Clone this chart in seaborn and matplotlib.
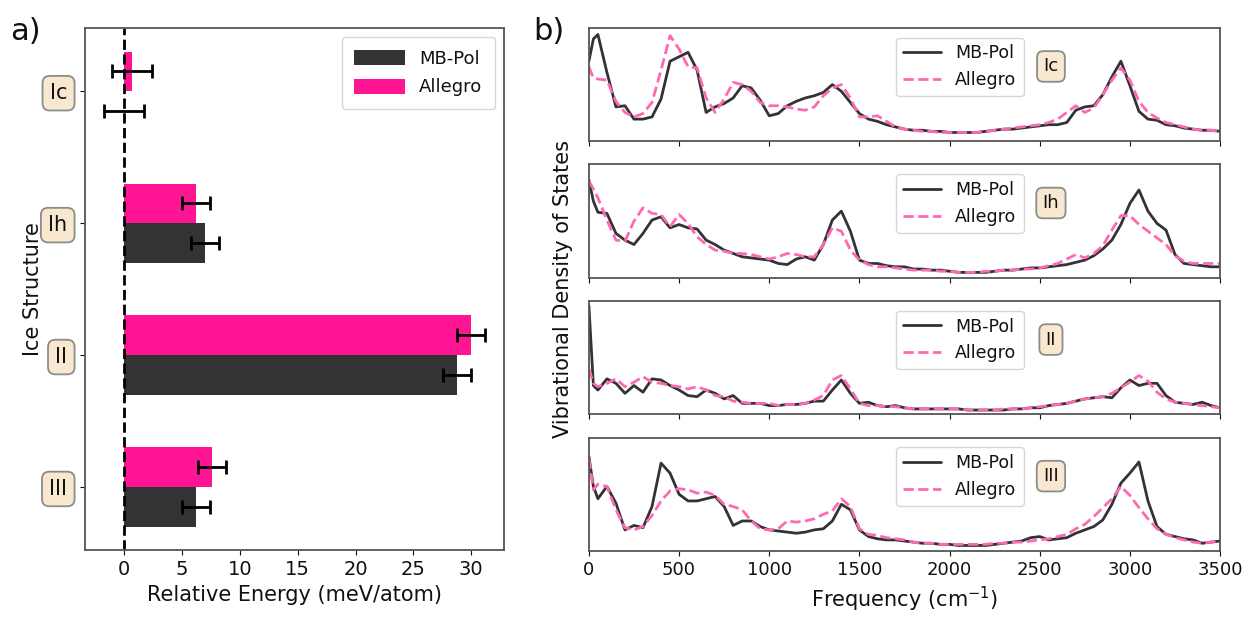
import matplotlib
matplotlib.use("Agg")
import matplotlib.pyplot as plt
import seaborn as sns
import pandas as pd
import numpy as np

# ---- panel a) relative energies (meV/atom) ----
structures = ["Ic", "Ih", "II", "III"]
mbpol_energy = [0.0, 7.0, 28.8, 6.2]
mbpol_err = [1.75, 1.2, 1.2, 1.2]
allegro_energy = [0.7, 6.2, 30.0, 7.6]
allegro_err = [1.75, 1.2, 1.2, 1.2]

# ---- panel b) VDOS (arb. units) ----
freq = [0, 25] + list(range(50, 3501, 50))

vdos_ic_mbpol = [0.72, 0.92, 0.96, 0.62, 0.31, 0.32, 0.20, 0.20, 0.22, 0.38, 0.72, 0.76, 0.80, 0.64,
                 0.26, 0.31, 0.34, 0.39, 0.50, 0.48, 0.37, 0.23, 0.25, 0.32, 0.36, 0.39, 0.41, 0.44,
                 0.51, 0.45, 0.35, 0.25, 0.20, 0.18, 0.15, 0.13, 0.11, 0.10, 0.10, 0.09, 0.09, 0.08,
                 0.08, 0.08, 0.08, 0.09, 0.10, 0.11, 0.11, 0.12, 0.13, 0.14, 0.15, 0.15, 0.17, 0.28,
                 0.31, 0.32, 0.42, 0.58, 0.72, 0.50, 0.27, 0.20, 0.19, 0.15, 0.14, 0.12, 0.11, 0.10,
                 0.10, 0.09]
vdos_ic_allegro = [0.67, 0.57, 0.56, 0.55, 0.36, 0.26, 0.22, 0.25, 0.35, 0.64, 0.95, 0.83, 0.67, 0.66,
                   0.39, 0.26, 0.38, 0.53, 0.51, 0.45, 0.35, 0.32, 0.32, 0.31, 0.29, 0.28, 0.31, 0.41,
                   0.48, 0.51, 0.39, 0.22, 0.22, 0.23, 0.18, 0.13, 0.11, 0.10, 0.09, 0.09, 0.08, 0.08,
                   0.08, 0.08, 0.08, 0.09, 0.10, 0.11, 0.12, 0.13, 0.14, 0.15, 0.17, 0.20, 0.26, 0.32,
                   0.26, 0.30, 0.42, 0.55, 0.66, 0.55, 0.36, 0.26, 0.21, 0.17, 0.15, 0.13, 0.11, 0.10,
                   0.10, 0.09]
vdos_ih_mbpol = [0.88, 0.69, 0.59, 0.58, 0.40, 0.34, 0.30, 0.40, 0.52, 0.55, 0.45, 0.48, 0.45, 0.44,
                 0.34, 0.30, 0.25, 0.22, 0.19, 0.18, 0.17, 0.16, 0.13, 0.12, 0.17, 0.19, 0.16, 0.30,
                 0.52, 0.60, 0.42, 0.16, 0.13, 0.13, 0.11, 0.10, 0.10, 0.08, 0.08, 0.07, 0.07, 0.06,
                 0.05, 0.05, 0.05, 0.05, 0.06, 0.07, 0.07, 0.08, 0.09, 0.09, 0.10, 0.11, 0.12, 0.14,
                 0.16, 0.20, 0.26, 0.34, 0.48, 0.67, 0.79, 0.60, 0.49, 0.43, 0.21, 0.13, 0.12, 0.11,
                 0.10, 0.10]
vdos_ih_allegro = [0.87, 0.80, 0.72, 0.52, 0.34, 0.33, 0.51, 0.63, 0.58, 0.57, 0.46, 0.57, 0.49, 0.37,
                   0.30, 0.25, 0.24, 0.22, 0.22, 0.21, 0.19, 0.17, 0.19, 0.22, 0.21, 0.19, 0.19, 0.30,
                   0.45, 0.42, 0.25, 0.16, 0.12, 0.10, 0.10, 0.09, 0.08, 0.07, 0.07, 0.07, 0.06, 0.06,
                   0.05, 0.05, 0.05, 0.06, 0.06, 0.07, 0.07, 0.08, 0.08, 0.09, 0.11, 0.13, 0.17, 0.21,
                   0.18, 0.22, 0.29, 0.43, 0.56, 0.56, 0.48, 0.42, 0.36, 0.30, 0.20, 0.15, 0.13, 0.13,
                   0.13, 0.13]
vdos_ii_mbpol = [0.98, 0.26, 0.22, 0.32, 0.28, 0.19, 0.26, 0.20, 0.32, 0.31, 0.26, 0.22, 0.17, 0.16,
                 0.22, 0.19, 0.14, 0.17, 0.10, 0.10, 0.10, 0.08, 0.08, 0.09, 0.09, 0.10, 0.12, 0.12,
                 0.22, 0.31, 0.19, 0.10, 0.11, 0.08, 0.07, 0.08, 0.06, 0.05, 0.05, 0.05, 0.05, 0.05,
                 0.05, 0.04, 0.04, 0.04, 0.04, 0.04, 0.05, 0.05, 0.06, 0.06, 0.08, 0.09, 0.10, 0.12,
                 0.14, 0.15, 0.16, 0.15, 0.24, 0.31, 0.26, 0.28, 0.28, 0.17, 0.11, 0.10, 0.09, 0.11,
                 0.08, 0.06]
vdos_ii_allegro = [0.41, 0.28, 0.25, 0.28, 0.32, 0.25, 0.29, 0.34, 0.29, 0.28, 0.26, 0.25, 0.23, 0.25,
                   0.22, 0.17, 0.16, 0.12, 0.11, 0.10, 0.10, 0.10, 0.08, 0.09, 0.09, 0.10, 0.13, 0.17,
                   0.31, 0.35, 0.23, 0.10, 0.08, 0.08, 0.07, 0.07, 0.06, 0.05, 0.05, 0.05, 0.05, 0.05,
                   0.05, 0.04, 0.04, 0.04, 0.04, 0.05, 0.05, 0.05, 0.06, 0.07, 0.08, 0.09, 0.10, 0.12,
                   0.14, 0.15, 0.16, 0.19, 0.24, 0.29, 0.35, 0.30, 0.20, 0.14, 0.11, 0.10, 0.09, 0.08,
                   0.07, 0.06]
vdos_iii_mbpol = [0.85, 0.58, 0.47, 0.58, 0.43, 0.19, 0.23, 0.21, 0.40, 0.79, 0.70, 0.51, 0.45, 0.45,
                  0.47, 0.49, 0.40, 0.23, 0.27, 0.27, 0.22, 0.19, 0.18, 0.17, 0.16, 0.17, 0.19, 0.20,
                  0.27, 0.42, 0.37, 0.19, 0.13, 0.11, 0.10, 0.10, 0.09, 0.08, 0.07, 0.07, 0.06, 0.06,
                  0.05, 0.05, 0.05, 0.05, 0.06, 0.07, 0.08, 0.09, 0.12, 0.13, 0.10, 0.11, 0.12, 0.16,
                  0.19, 0.22, 0.28, 0.42, 0.61, 0.70, 0.80, 0.45, 0.22, 0.15, 0.13, 0.11, 0.10, 0.07,
                  0.08, 0.09]
vdos_iii_allegro = [0.83, 0.55, 0.60, 0.58, 0.37, 0.21, 0.19, 0.22, 0.32, 0.45, 0.54, 0.56, 0.55, 0.52,
                    0.53, 0.50, 0.42, 0.40, 0.37, 0.27, 0.20, 0.19, 0.20, 0.27, 0.26, 0.27, 0.29, 0.33,
                    0.36, 0.47, 0.40, 0.20, 0.15, 0.14, 0.12, 0.11, 0.10, 0.08, 0.07, 0.07, 0.06, 0.06,
                    0.06, 0.06, 0.06, 0.06, 0.07, 0.07, 0.08, 0.08, 0.09, 0.10, 0.11, 0.13, 0.15, 0.20,
                    0.24, 0.31, 0.39, 0.47, 0.58, 0.50, 0.39, 0.29, 0.20, 0.15, 0.12, 0.10, 0.08, 0.07,
                    0.08, 0.09]

vdos_mbpol = [vdos_ic_mbpol, vdos_ih_mbpol, vdos_ii_mbpol, vdos_iii_mbpol]
vdos_allegro = [vdos_ic_allegro, vdos_ih_allegro, vdos_ii_allegro, vdos_iii_allegro]

MBPOL_C = "#333333"
BAR_PINK = "#ff1493"
LINE_PINK = "#ff69b4"
TAG_BOX = dict(boxstyle="round,pad=0.35", fc="#f7e8cf", ec="#8c8c8c", lw=1.3)

sns.set_style("ticks")
plt.rcParams["font.family"] = ["DejaVu Sans"]
plt.rcParams["text.color"] = "#111111"
plt.rcParams["axes.labelcolor"] = "#111111"
plt.rcParams["xtick.color"] = "#111111"
plt.rcParams["ytick.color"] = "#111111"

fig = plt.figure(figsize=(12.45, 6.19), dpi=100)

# ---------------- a) bar chart ----------------
ax = fig.add_axes([0.068, 0.111, 0.337, 0.844])
energy_df = pd.DataFrame({
    "structure": structures * 2,
    "energy": allegro_energy + mbpol_energy,
    "model": ["Allegro"] * 4 + ["MB-Pol"] * 4,
})
sns.barplot(data=energy_df, x="energy", y="structure", hue="model",
            hue_order=["Allegro", "MB-Pol"], order=structures,
            palette={"Allegro": BAR_PINK, "MB-Pol": MBPOL_C}, saturation=1,
            width=0.6, errorbar=None, orient="h", linewidth=0, ax=ax)
pos = np.arange(len(structures))
ax.errorbar(allegro_energy, pos - 0.15, xerr=allegro_err, fmt="none",
            ecolor="black", elinewidth=2, capsize=5, capthick=2)
ax.errorbar(mbpol_energy, pos + 0.15, xerr=mbpol_err, fmt="none",
            ecolor="black", elinewidth=2, capsize=5, capthick=2)
ax.axvline(0, color="black", ls="--", lw=2)
ax.set_xticks(range(0, 31, 5))

handles, labels = ax.get_legend_handles_labels()
order = [labels.index("MB-Pol"), labels.index("Allegro")]
ax.legend([handles[i] for i in order], [labels[i] for i in order],
          loc="upper right", fontsize=13, handlelength=2.8, handleheight=0.9,
          borderpad=0.7, labelspacing=0.6)

ax.set_xlabel("Relative Energy (meV/atom)", fontsize=15)
ax.set_ylabel("Ice Structure", fontsize=15)
ax.tick_params(axis="x", labelsize=14)
ax.tick_params(axis="y", labelsize=15, pad=9)
for lbl in ax.get_yticklabels():
    lbl.set_bbox(TAG_BOX)
for s in ax.spines.values():
    s.set_color("#555555")
    s.set_linewidth(1.3)

# ---------------- b) VDOS ----------------
panel_h = 0.1834
gap = 0.0372
for k, name in enumerate(structures):
    bottom = 0.955 - panel_h - k * (panel_h + gap)
    axb = fig.add_axes([0.473, bottom, 0.507, panel_h])
    df = pd.DataFrame({"freq": freq, "MB-Pol": vdos_mbpol[k], "Allegro": vdos_allegro[k]})
    sns.lineplot(data=df, x="freq", y="MB-Pol", color=MBPOL_C, lw=2, label="MB-Pol", ax=axb)
    sns.lineplot(data=df, x="freq", y="Allegro", color=LINE_PINK, lw=2, ls="--",
                 label="Allegro", ax=axb)
    axb.set_xlim(0, 3500)
    axb.set_ylim(0, 1.02)
    axb.set_yticks([])
    axb.set_ylabel("")
    axb.set_xlabel("")
    axb.set_xticks(range(0, 3501, 500))
    if k < 3:
        axb.tick_params(axis="x", labelbottom=False)
    else:
        axb.tick_params(axis="x", labelsize=13)
        axb.set_xlabel("Frequency (cm$^{-1}$)", fontsize=15)
    axb.legend(loc="upper left", bbox_to_anchor=(0.487, 0.915), borderaxespad=0,
               fontsize=12.5, handlelength=2.2)
    axb.text(0.732, 0.66, name, transform=axb.transAxes, ha="center", va="center",
             fontsize=13, bbox=TAG_BOX)
    for s in axb.spines.values():
        s.set_color("#555555")
        s.set_linewidth(1.3)

fig.text(0.452, 0.533, "Vibrational Density of States", rotation=90,
         ha="center", va="center", fontsize=15)
fig.text(0.008, 0.935, "a)", fontsize=22)
fig.text(0.428, 0.935, "b)", fontsize=22)

fig.savefig("out.png", dpi=100)
